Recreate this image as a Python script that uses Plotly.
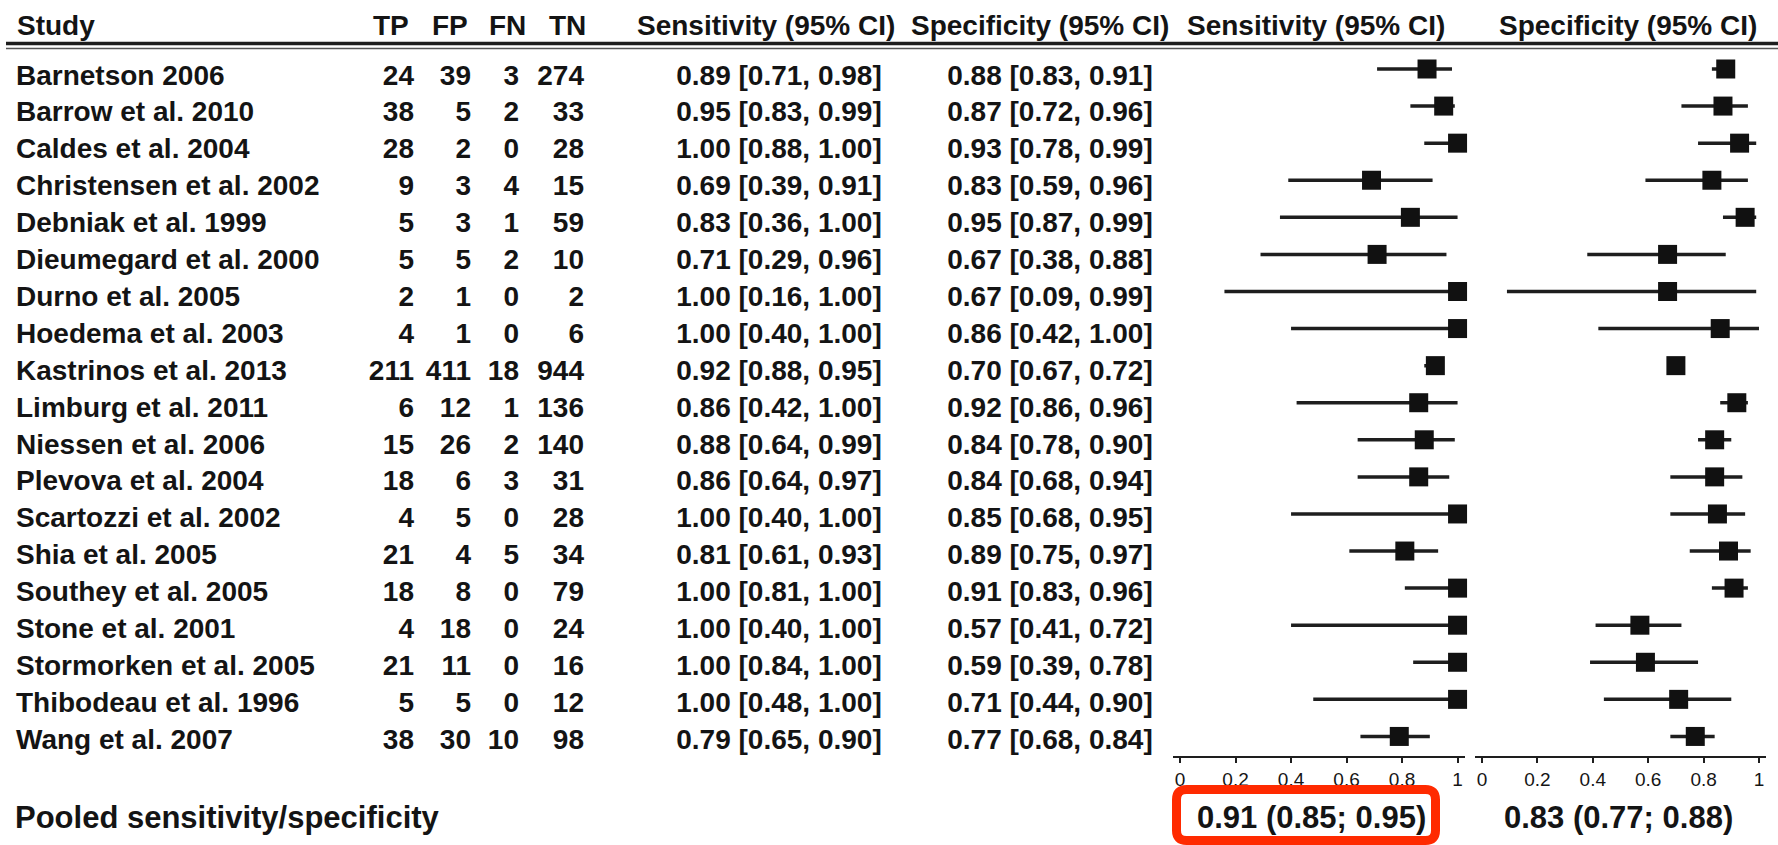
import plotly.graph_objects as go

W, H = 1778, 845

# ---------------- data ----------------
studies = ["Barnetson 2006", "Barrow et al. 2010", "Caldes et al. 2004",
           "Christensen et al. 2002", "Debniak et al. 1999", "Dieumegard et al. 2000",
           "Durno et al. 2005", "Hoedema et al. 2003", "Kastrinos et al. 2013",
           "Limburg et al. 2011", "Niessen et al. 2006", "Plevova et al. 2004",
           "Scartozzi et al. 2002", "Shia et al. 2005", "Southey et al. 2005",
           "Stone et al. 2001", "Stormorken et al. 2005", "Thibodeau et al. 1996",
           "Wang et al. 2007"]
TP = [24, 38, 28, 9, 5, 5, 2, 4, 211, 6, 15, 18, 4, 21, 18, 4, 21, 5, 38]
FP = [39, 5, 2, 3, 3, 5, 1, 1, 411, 12, 26, 6, 5, 4, 8, 18, 11, 5, 30]
FN = [3, 2, 0, 4, 1, 2, 0, 0, 18, 1, 2, 3, 0, 5, 0, 0, 0, 0, 10]
TN = [274, 33, 28, 15, 59, 10, 2, 6, 944, 136, 140, 31, 28, 34, 79, 24, 16, 12, 98]
sens = [0.89, 0.95, 1.00, 0.69, 0.83, 0.71, 1.00, 1.00, 0.92, 0.86, 0.88, 0.86, 1.00, 0.81, 1.00, 1.00, 1.00, 1.00, 0.79]
sens_lo = [0.71, 0.83, 0.88, 0.39, 0.36, 0.29, 0.16, 0.40, 0.88, 0.42, 0.64, 0.64, 0.40, 0.61, 0.81, 0.40, 0.84, 0.48, 0.65]
sens_hi = [0.98, 0.99, 1.00, 0.91, 1.00, 0.96, 1.00, 1.00, 0.95, 1.00, 0.99, 0.97, 1.00, 0.93, 1.00, 1.00, 1.00, 1.00, 0.90]
spec = [0.88, 0.87, 0.93, 0.83, 0.95, 0.67, 0.67, 0.86, 0.70, 0.92, 0.84, 0.84, 0.85, 0.89, 0.91, 0.57, 0.59, 0.71, 0.77]
spec_lo = [0.83, 0.72, 0.78, 0.59, 0.87, 0.38, 0.09, 0.42, 0.67, 0.86, 0.78, 0.68, 0.68, 0.75, 0.83, 0.41, 0.39, 0.44, 0.68]
spec_hi = [0.91, 0.96, 0.99, 0.96, 0.99, 0.88, 0.99, 1.00, 0.72, 0.96, 0.90, 0.94, 0.95, 0.97, 0.96, 0.72, 0.78, 0.90, 0.84]
pooled_sens = (0.91, 0.85, 0.95)
pooled_spec = (0.83, 0.77, 0.88)
tick_vals = [0, 0.2, 0.4, 0.6, 0.8, 1]
tick_text = ["0", "0.2", "0.4", "0.6", "0.8", "1"]
headers = ["Study", "TP", "FP", "FN", "TN", "Sensitivity (95% CI)",
           "Specificity (95% CI)", "Sensitivity (95% CI)", "Specificity (95% CI)"]
pooled_label = "Pooled sensitivity/specificity"

# ---------------- layout constants (pixels) ----------------
FONT = "Liberation Sans"
TXT = "#141414"
ROW0, STEP = 69.0, 37.08          # forest rows (marker centres)
TROW0, TSTEP = 77.5, 36.9         # table text rows
AXIS_Y = 756
n = len(studies)
rows = list(range(n))


def px(x):
    return x / W


def py(y):
    return 1 - y / H


fig = go.Figure()
tf = dict(family=FONT, size=28, color=TXT, weight="bold")


def text_col(x, texts, pos):
    fig.add_trace(go.Scatter(
        x=[x] * n, y=rows, text=texts, mode="text", textposition=pos,
        textfont=tf, xaxis="x3", yaxis="y2", cliponaxis=False,
        hoverinfo="skip", showlegend=False))


text_col(16, studies, "middle right")
text_col(414, [str(v) for v in TP], "middle left")
text_col(471, [str(v) for v in FP], "middle left")
text_col(519, [str(v) for v in FN], "middle left")
text_col(584, [str(v) for v in TN], "middle left")
text_col(779, [f"{e:.2f} [{l:.2f}, {h:.2f}]" for e, l, h in zip(sens, sens_lo, sens_hi)], "middle center")
text_col(1050, [f"{e:.2f} [{l:.2f}, {h:.2f}]" for e, l, h in zip(spec, spec_lo, spec_hi)], "middle center")


def forest(est, lo, hi, xa):
    fig.add_trace(go.Scatter(
        x=est, y=rows, mode="markers", xaxis=xa, yaxis="y",
        marker=dict(symbol="square", size=19, color="#111111", line=dict(width=0)),
        error_x=dict(type="data", symmetric=False,
                     array=[h - e for e, h in zip(est, hi)],
                     arrayminus=[e - l for e, l in zip(est, lo)],
                     width=0, thickness=3.5, color="#1e1e1e"),
        cliponaxis=False, hoverinfo="skip", showlegend=False))


forest(sens, sens_lo, sens_hi, "x")
forest(spec, spec_lo, spec_hi, "x2")

axis_style = dict(range=[-0.025, 1.025], showline=True, linecolor="#1e1e1e", linewidth=2,
                  ticks="outside", ticklen=5, tickwidth=1.5, tickcolor="#1e1e1e",
                  tickvals=tick_vals, ticktext=tick_text,
                  tickfont=dict(family=FONT, size=19, color="#151515"),
                  showgrid=False, zeroline=False, anchor="y", fixedrange=True)

fig.update_layout(
    width=W, height=H, margin=dict(l=0, r=0, t=0, b=0),
    paper_bgcolor="white", plot_bgcolor="rgba(0,0,0,0)",
    xaxis=dict(domain=[px(1173.1), px(1464.5)], **axis_style),
    xaxis2=dict(domain=[px(1475.1), px(1765.9)], **axis_style),
    xaxis3=dict(domain=[0, 1], range=[0, W], visible=False, anchor="y", fixedrange=True),
    yaxis=dict(domain=[py(AXIS_Y), 1],
               range=[(AXIS_Y - ROW0) / STEP, -ROW0 / STEP],
               visible=False, fixedrange=True),
    yaxis2=dict(domain=[py(AXIS_Y), 1], overlaying="y",
                range=[(AXIS_Y - TROW0) / TSTEP, -TROW0 / TSTEP],
                visible=False, fixedrange=True),
    showlegend=False,
)

# headers
hdr_font = dict(family=FONT, size=28, color=TXT, weight="bold")
hdr_pos = [(15, "left"), (391, "center"), (450, "center"), (507, "center"), (567, "center"),
           (766, "center"), (1040, "center"), (1316, "center"), (1628, "center")]
for t, (x, anc) in zip(headers, hdr_pos):
    fig.add_annotation(x=px(x), y=py(25), xref="paper", yref="paper", text=t,
                       showarrow=False, xanchor=anc, yanchor="middle", font=hdr_font)

# header rule (double line)
fig.add_shape(type="line", xref="paper", yref="paper", x0=px(6), x1=1, y0=py(43.5), y1=py(43.5),
              line=dict(color="#1e1e1e", width=3.5))
fig.add_shape(type="line", xref="paper", yref="paper", x0=px(6), x1=1, y0=py(48.5), y1=py(48.5),
              line=dict(color="#555555", width=1.5))

# pooled row
pool_font = dict(family=FONT, size=31, color=TXT, weight="bold")
fig.add_annotation(x=px(13), y=py(817), xref="paper", yref="paper", text=pooled_label,
                   showarrow=False, xanchor="left", yanchor="middle", font=pool_font)
fig.add_annotation(x=px(1311), y=py(817), xref="paper", yref="paper",
                   text=f"{pooled_sens[0]:.2f} ({pooled_sens[1]:.2f}; {pooled_sens[2]:.2f})",
                   showarrow=False, xanchor="center", yanchor="middle", font=pool_font)
fig.add_annotation(x=px(1618), y=py(817), xref="paper", yref="paper",
                   text=f"{pooled_spec[0]:.2f} ({pooled_spec[1]:.2f}; {pooled_spec[2]:.2f})",
                   showarrow=False, xanchor="center", yanchor="middle", font=pool_font)


# red rounded highlight box
def rounded_path(x0, y0, x1, y1, r):
    pts = [
        f"M {px(x0 + r)},{py(y0)}",
        f"L {px(x1 - r)},{py(y0)}",
        f"Q {px(x1)},{py(y0)} {px(x1)},{py(y0 + r)}",
        f"L {px(x1)},{py(y1 - r)}",
        f"Q {px(x1)},{py(y1)} {px(x1 - r)},{py(y1)}",
        f"L {px(x0 + r)},{py(y1)}",
        f"Q {px(x0)},{py(y1)} {px(x0)},{py(y1 - r)}",
        f"L {px(x0)},{py(y0 + r)}",
        f"Q {px(x0)},{py(y0)} {px(x0 + r)},{py(y0)}",
        "Z",
    ]
    return " ".join(pts)


fig.add_shape(type="path", xref="paper", yref="paper",
              path=rounded_path(1176.5, 789.5, 1435.5, 840.5, 10),
              line=dict(color="#FF2A00", width=9), layer="above")

fig.write_html("out.html")
